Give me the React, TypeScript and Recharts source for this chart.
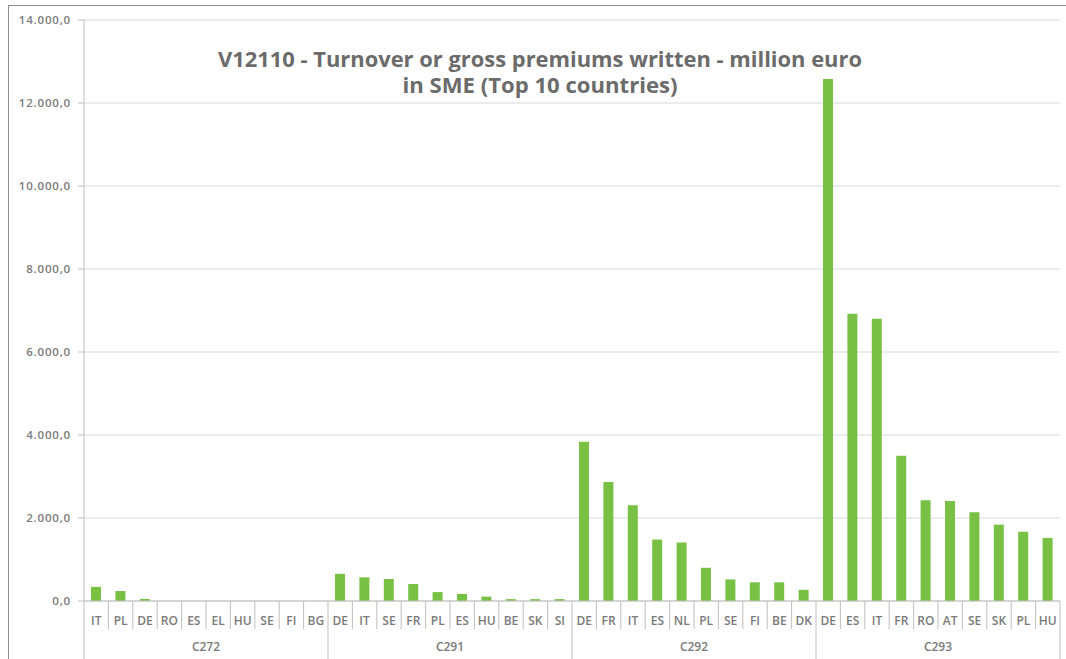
import React from 'react';
import { BarChart, Bar, XAxis, YAxis, CartesianGrid } from 'recharts';

const GROUPS = ['C272', 'C291', 'C292', 'C293'];
const C272_COUNTRIES = ['IT', 'PL', 'DE', 'RO', 'ES', 'EL', 'HU', 'SE', 'FI', 'BG'];
const C272_VALUES = [340, 240, 50, 0, 0, 0, 0, 0, 0, 0];
const C291_COUNTRIES = ['DE', 'IT', 'SE', 'FR', 'PL', 'ES', 'HU', 'BE', 'SK', 'SI'];
const C291_VALUES = [655, 570, 530, 410, 215, 170, 105, 45, 45, 45];
const C292_COUNTRIES = ['DE', 'FR', 'IT', 'ES', 'NL', 'PL', 'SE', 'FI', 'BE', 'DK'];
const C292_VALUES = [3840, 2870, 2310, 1480, 1410, 800, 520, 450, 450, 270];
const C293_COUNTRIES = ['DE', 'ES', 'IT', 'FR', 'RO', 'AT', 'SE', 'SK', 'PL', 'HU'];
const C293_VALUES = [12580, 6920, 6800, 3500, 2430, 2410, 2140, 1840, 1670, 1520];
const Y_TICKS = [0, 2000, 4000, 6000, 8000, 10000, 12000, 14000];
const TITLE_LINES = ['V12110 - Turnover or gross premiums written - million euro', 'in SME (Top 10 countries)'];

const COUNTRY_LISTS = [C272_COUNTRIES, C291_COUNTRIES, C292_COUNTRIES, C293_COUNTRIES];
const VALUE_LISTS = [C272_VALUES, C291_VALUES, C292_VALUES, C293_VALUES];

const data = GROUPS.flatMap((g, gi) =>
  COUNTRY_LISTS[gi].map((c, ci) => ({
    key: `${g}-${c}`,
    group: g,
    country: c,
    value: VALUE_LISTS[gi][ci],
  }))
);

const FONT = "'Open Sans', sans-serif";
const TEXT_GRAY = '#7a7a7a';
const LINE_GRAY = '#bfbfbf';

const fmt = (v: number) => {
  const s = Math.round(v).toString().replace(/\B(?=(\d{3})+(?!\d))/g, '.');
  return `${s},0`;
};

const CountryTick = (props: any) => {
  const { x, y, payload, index } = props;
  const half = payload && payload.offset ? payload.offset : 12.2;
  const last = index === data.length - 1;
  return (
    <g>
      <line x1={x - half} x2={x - half} y1={y} y2={y + 28} stroke={LINE_GRAY} strokeWidth={1} />
      {last && <line x1={x + half} x2={x + half} y1={y} y2={y + 28} stroke={LINE_GRAY} strokeWidth={1} />}
      <text x={x} y={y + 24} textAnchor="middle" fontFamily={FONT} fontSize={12} fontWeight={600} fill={TEXT_GRAY} stroke="none">
        {data[index] ? data[index].country : ''}
      </text>
    </g>
  );
};

const GroupTick = (props: any) => {
  const { x, y, payload, index } = props;
  const half = payload && payload.offset ? payload.offset : 12.2;
  const last = index === data.length - 1;
  const first = index % 10 === 0;
  return (
    <g>
      {first && <line x1={x - half} x2={x - half} y1={y} y2={y + 40} stroke={LINE_GRAY} strokeWidth={1} />}
      {last && <line x1={x + half} x2={x + half} y1={y} y2={y + 40} stroke={LINE_GRAY} strokeWidth={1} />}
      {first && (
        <text x={x + 9 * half} y={y + 22} textAnchor="middle" fontFamily={FONT} fontSize={12} fontWeight={600} fill={TEXT_GRAY} stroke="none">
          {data[index].group}
        </text>
      )}
    </g>
  );
};

export default function App() {
  return (
    <div style={{ position: 'absolute', left: 0, top: 0, width: 1066, height: 659, overflow: 'hidden', background: '#fff' }}>
      <BarChart width={1066} height={659} data={data} margin={{ top: 20, right: 6, bottom: 0, left: 0 }}>
        <CartesianGrid vertical={false} stroke="#d9d9d9" />
        <XAxis
          xAxisId="c"
          dataKey="key"
          height={28}
          interval={0}
          tick={<CountryTick />}
          tickLine={false}
          tickSize={0}
          tickMargin={0}
          axisLine={{ stroke: LINE_GRAY }}
        />
        <XAxis
          xAxisId="g"
          dataKey="key"
          height={30}
          interval={0}
          tick={<GroupTick />}
          tickLine={false}
          tickSize={0}
          tickMargin={0}
          axisLine={false}
        />
        <YAxis
          width={84}
          domain={[0, 14000]}
          ticks={Y_TICKS}
          interval={0}
          tickFormatter={fmt}
          tickSize={6}
          tickMargin={7}
          axisLine={{ stroke: LINE_GRAY }}
          tickLine={{ stroke: LINE_GRAY }}
          tick={{ fontFamily: FONT, fontSize: 11.5, fontWeight: 600, fill: TEXT_GRAY, letterSpacing: 0.8 }}
        />
        <Bar xAxisId="c" dataKey="value" fill="#78c144" barSize={10} isAnimationActive={false} />
      </BarChart>
      <svg width={1066} height={659} style={{ position: 'absolute', left: 0, top: 0, pointerEvents: 'none' }}>
        <line x1={8} x2={1066} y1={5.5} y2={5.5} stroke="#8c8c8c" />
        <line x1={8.5} x2={8.5} y1={5} y2={659} stroke="#8c8c8c" />
        <text x={540} y={67} textAnchor="middle" fontFamily={FONT} fontSize={20.5} fontWeight={700} fill="#6b6b6b" textLength={644} lengthAdjust="spacingAndGlyphs">
          {TITLE_LINES[0]}
        </text>
        <text x={540} y={93} textAnchor="middle" fontFamily={FONT} fontSize={20.5} fontWeight={700} fill="#6b6b6b" textLength={275} lengthAdjust="spacingAndGlyphs">
          {TITLE_LINES[1]}
        </text>
      </svg>
    </div>
  );
}
